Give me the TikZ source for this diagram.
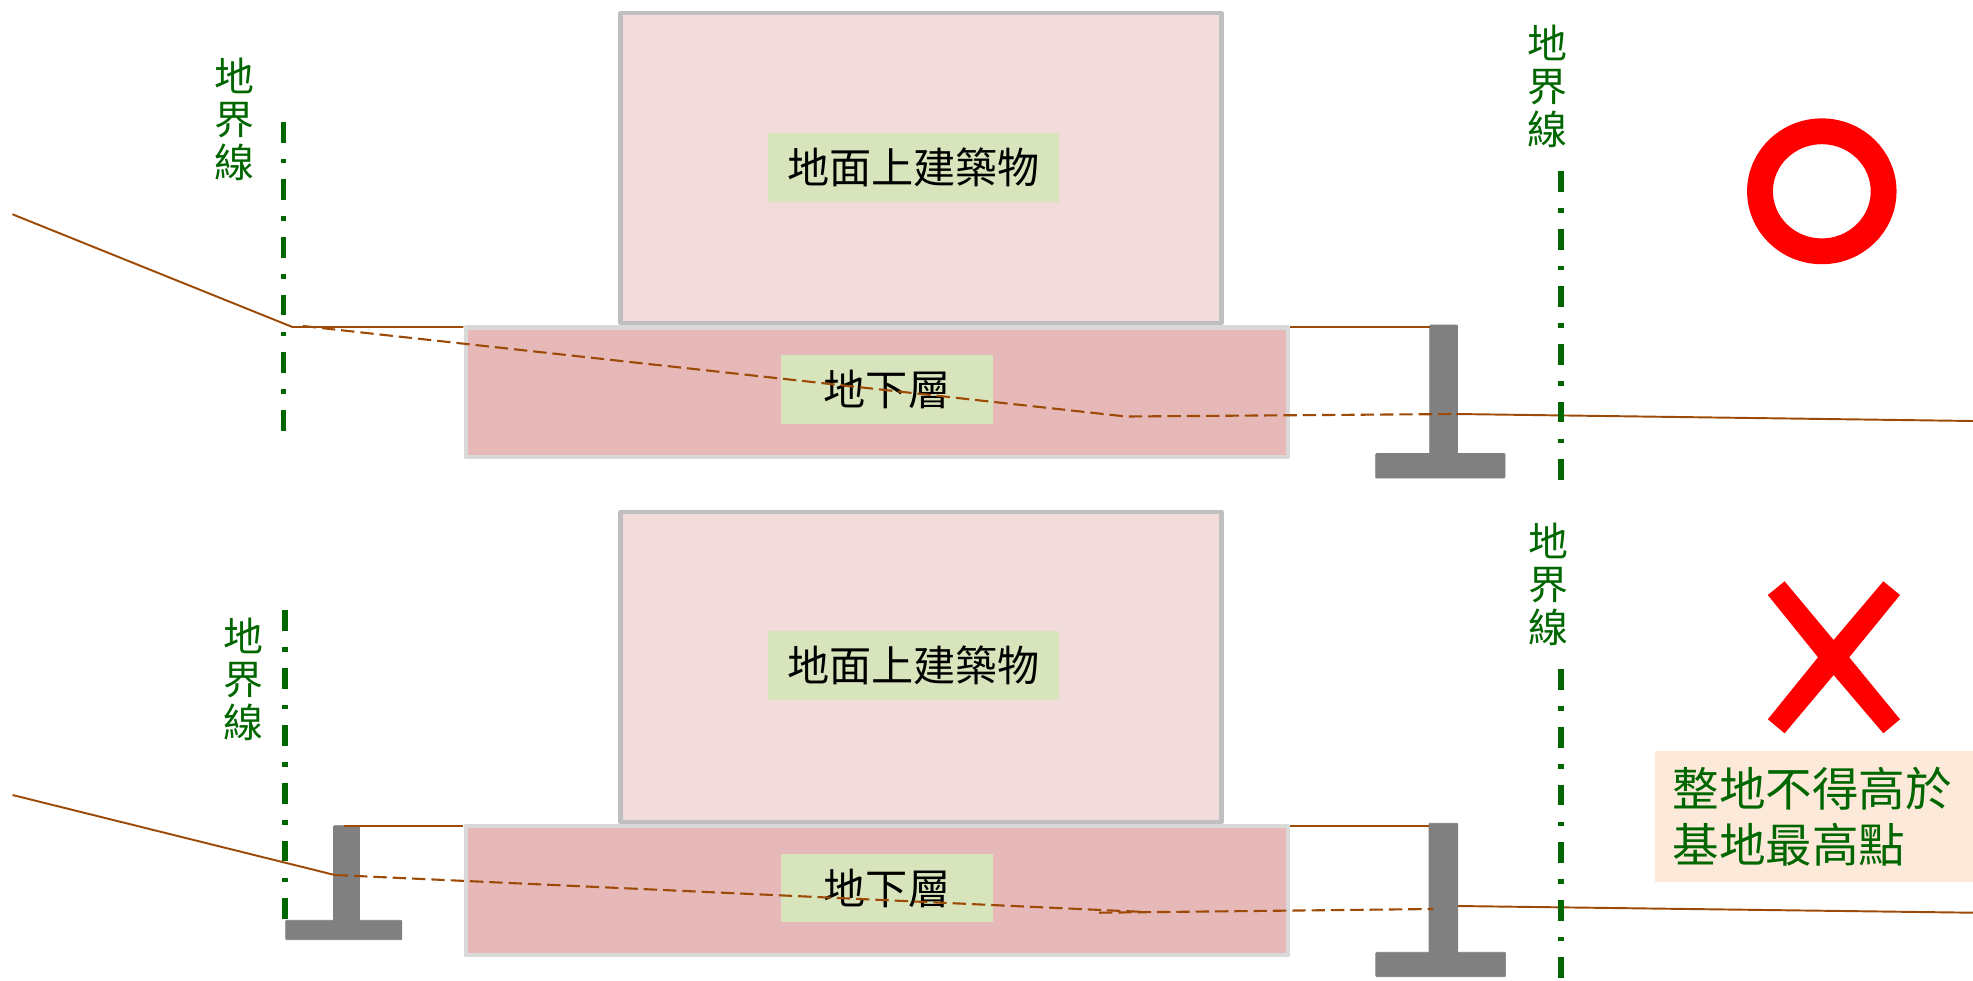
\documentclass[tikz,border=0pt]{standalone}
\usepackage{fontspec}
\setmainfont{Noto Sans CJK TC}
\definecolor{groundc}{HTML}{9C4A06}
\definecolor{linec}{HTML}{006600}
\definecolor{buildc}{HTML}{F2DCDB}
\definecolor{basec}{HTML}{E6B8B7}
\definecolor{tagc}{HTML}{D8E4BC}
\definecolor{notec}{HTML}{FDE9D9}
\begin{document}
\begin{tikzpicture}[x=0.02cm,y=-0.02cm,line join=round,
  buildstyle/.style={draw=black!25,fill=buildc,line width=2.5pt,minimum width=601*0.02cm,minimum height=310*0.02cm,inner sep=0},
  basestyle/.style={draw=black!15,fill=basec,line width=2.5pt,minimum width=822*0.02cm,minimum height=129.5*0.02cm,inner sep=0},
  tagstyle/.style={fill=tagc,font=\fontsize{24}{28}\selectfont,minimum height=68.5*0.02cm,inner sep=0},
  limitstyle/.style={linec,line width=3.1pt,dash pattern=on 11.9pt off 9.2pt on 2.6pt off 9.1pt},
  limittext/.style={text=linec,font=\fontsize{22.7}{24.5}\selectfont,align=center,inner sep=0},
  groundstyle/.style={groundc,line width=1.1pt},
  hiddenstyle/.style={groundc,line width=1.2pt,dash pattern=on 7.6pt off 3.4pt},
  wallstyle/.style={fill=black!50,draw=black!50,line width=0.4pt,rounded corners=0.5pt},
  notestyle/.style={fill=notec,text=linec,font=\fontsize{26.5}{32}\selectfont,align=left,anchor=north west,inner xsep=18*0.02cm,inner ysep=0,minimum width=319*0.02cm,minimum height=131*0.02cm,text width=283*0.02cm}]
    \useasboundingbox (0,0) rectangle (1973,980);
    % upper case
    \node [buildstyle] (build0) at (921,168) {};
    \node [basestyle]  (base0) at (876.7,392.2) {};
    \node [tagstyle,minimum width=291*0.02cm] (upper0) at (913.5,167.3) {地面上建築物};
    \node [tagstyle,minimum width=212*0.02cm] (lower0) at (887,389.3) {地下層};
    \fill [wallstyle] (1429.6,325) rectangle (1457.5,460);
    \fill [wallstyle] (1375.6,453.5) rectangle (1505,478);
    \coordinate (a0) at (12.5,214.3);
    \coordinate (b0) at (292.4,327);
    \coordinate (c0) at (463.4,327);
    \coordinate (d0) at (1290,327);
    \coordinate (e0) at (1429.6,327);
    \coordinate (f0) at (302.7,326);
    \coordinate (g0) at (1126,416.5);
    \coordinate (h0) at (1456,414);
    \coordinate (i0) at (1973,421);
    \draw [groundstyle] (a0) -- (b0) -- (c0);
    \draw [groundstyle] (d0) -- (e0);
    \draw [groundstyle] (h0) -- (i0);
    \draw [hiddenstyle] (f0) -- (g0) -- (h0);
    \coordinate (l0) at (283.5,121.7);
    \coordinate (l1) at (283.5,432);
    \coordinate (r0) at (1561,171);
    \coordinate (r1) at (1561,481);
    \draw [limitstyle] (l0) -- (l1);
    \draw [limitstyle] (r0) -- (r1);
    \node [limittext] (name0) at (234.4,119) {地\\界\\線};
    \node [limittext] (name1) at (1547,86) {地\\界\\線};
    \draw [red,line width=14.7pt] (1821.8,191.3) ellipse (61.8 and 60);
    % lower case
    \node [buildstyle] (build1) at (921,667) {};
    \node [basestyle]  (base1) at (876.7,890.5) {};
    \node [tagstyle,minimum width=291*0.02cm] (upper1) at (913.5,665.6) {地面上建築物};
    \node [tagstyle,minimum width=212*0.02cm] (lower1) at (887,888) {地下層};
    \fill [wallstyle] (1429,823.3) rectangle (1457.8,958);
    \fill [wallstyle] (1375.8,952.3) rectangle (1505.6,976.7);
    \fill [wallstyle] (333.5,825.7) rectangle (359.4,925);
    \fill [wallstyle] (285.7,920.3) rectangle (401.8,939.7);
    \coordinate (a1) at (12.5,795);
    \coordinate (b1) at (334.8,875);
    \coordinate (c1) at (344,826);
    \coordinate (d1) at (463.4,826);
    \coordinate (e1) at (1290,826);
    \coordinate (f1) at (1429,826);
    \coordinate (g1) at (1145,912);
    \coordinate (h1) at (1099,912.7);
    \coordinate (i1) at (1433,909);
    \coordinate (j1) at (1457.8,906);
    \coordinate (k1) at (1973,912.7);
    \draw [groundstyle] (a1) -- (b1);
    \draw [groundstyle] (c1) -- (d1);
    \draw [groundstyle] (e1) -- (f1);
    \draw [groundstyle] (j1) -- (k1);
    \draw [hiddenstyle] (b1) -- (g1);
    \draw [hiddenstyle] (h1) -- (i1);
    \coordinate (l2) at (284.8,610);
    \coordinate (l3) at (284.8,920.7);
    \coordinate (r2) at (1561,669.3);
    \coordinate (r3) at (1561,980);
    \draw [limitstyle] (l2) -- (l3);
    \draw [limitstyle] (r2) -- (r3);
    \node [limittext] (name2) at (243.7,679.5) {地\\界\\線};
    \node [limittext] (name3) at (1548,584) {地\\界\\線};
    \fill [red] (1784.6,581.3) -- (1767.8,595) -- (1818,657.3) -- (1767.8,719.3) -- (1784.6,733.3) -- (1833.6,675) -- (1883.3,733.3) -- (1900,719.3) -- (1849.2,657.3) -- (1900,595) -- (1883.3,581.3) -- (1833.6,640) -- cycle;
    \node [notestyle] (note) at (1654.2,751) {整地不得高於\\基地最高點};
\end{tikzpicture}
\end{document}
